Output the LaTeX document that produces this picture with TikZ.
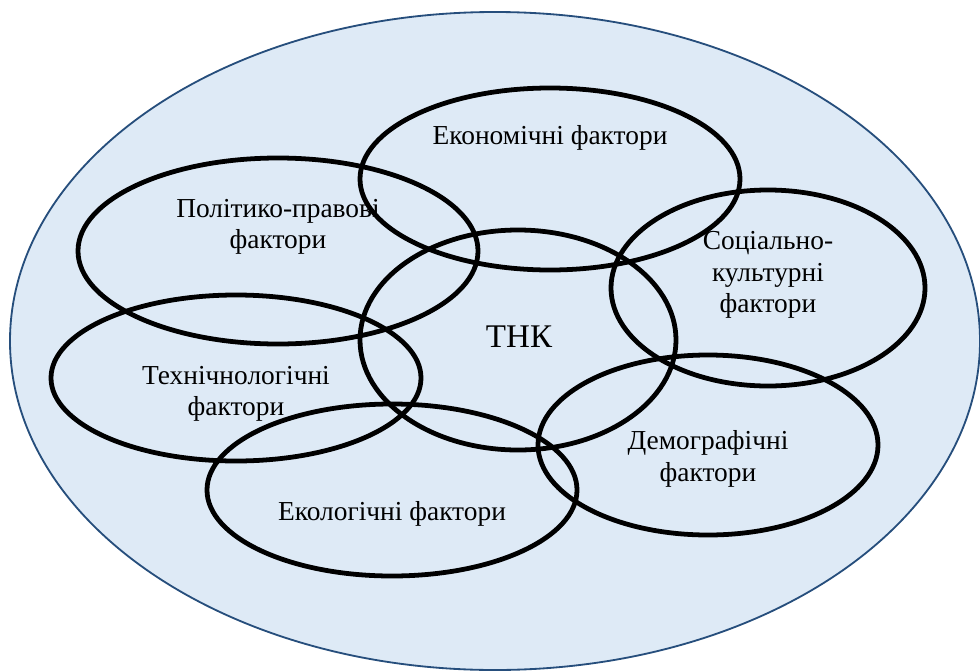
\documentclass[tikz,border=0pt]{standalone}
\usepackage{fontspec}
\setmainfont{Liberation Serif}
\usepackage{tikz}

\definecolor{paleblue}{RGB}{222,234,246}
\definecolor{rimblue}{RGB}{38,78,124}

\tikzset{
  factor/.style={draw=black, line width=3.4pt},
  label/.style={align=center, font=\fontsize{19.5}{22.5}\selectfont, inner sep=0pt}
}

\begin{document}
\begin{tikzpicture}[x=0.025cm, y=-0.025cm]
\useasboundingbox (0,0) rectangle (980,671);
% outer field
\draw[fill=paleblue, draw=rimblue, line width=1.3pt] (495,341) ellipse (485 and 329);
% factor rings
\draw[factor] (550,179) ellipse (190 and 91);
\draw[factor] (278,251) ellipse (200 and 93);
\draw[factor] (518,340) ellipse (158 and 110);
\draw[factor] (768,288) ellipse (157 and 98);
\draw[factor] (236,378) ellipse (185 and 83);
\draw[factor] (392,490) ellipse (185 and 86);
\draw[factor] (708,445) ellipse (170 and 90);
% labels
\node[label] (econ) at (550,138) {Економічні фактори};
\node[label] (polit) at (278,227) {Політико-правові\\фактори};
\node[label, font=\fontsize{23.5}{26}\selectfont] (tnk) at (519,337) {ТНК};
\node[label] (social) at (768,275) {Соціально-\\культурні\\фактори};
\node[label] (tech) at (236,394) {Технічнологічні\\фактори};
\node[label] (ecol) at (392,514) {Екологічні фактори};
\node[label] (demo) at (708,459) {Демографічні\\фактори};
\end{tikzpicture}
\end{document}
